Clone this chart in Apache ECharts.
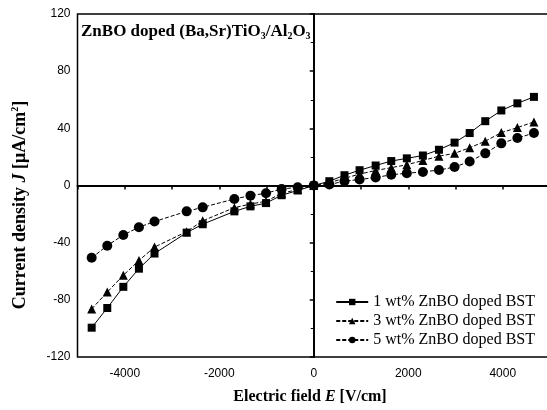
<!DOCTYPE html>
<html><head><meta charset="utf-8">
<script src="https://cdn.jsdelivr.net/npm/echarts@6/dist/echarts.min.js"></script>
<style>html,body{margin:0;padding:0;background:#fff}#c{width:547px;height:410px}</style>
</head><body><div id="c"></div>
<script>
const fieldE = [-4700,-4370,-4030,-3700,-3370,-2690,-2350,-1680,-1340,-1010,-680,-340,0,
  330,650,970,1310,1640,1970,2310,2650,2980,3300,3630,3970,4310,4660];
const wt1 = [-99.5,-85.7,-70.9,-58.2,-47.6,-33,-27.1,-18.1,-14.6,-12.3,-6.8,-3.5,0,
  3.0,7.2,10.7,14.0,17.1,19.0,21.0,25.0,30.0,36.7,45.0,52.5,57.5,62.0];
const wt3 = [-86.4,-74.6,-62.8,-52.5,-43.1,-32.3,-24.7,-15.5,-13,-11,-5.5,-2.8,0,
  2,5,8,10.5,12.5,14.5,17.5,20.5,22.5,26.4,31,37,40.5,44.5];
const wt5 = [-50.6,-42.1,-34.6,-29.2,-25.2,-18.1,-15.3,-9.4,-7.1,-5.4,-2.5,-1.2,0,
  0.7,3.0,4.2,5.6,7.5,8.6,9.5,10.8,12.9,16.8,22.5,29.5,33.2,36.7];
const seriesNames = ['1 wt% ZnBO doped BST','3 wt% ZnBO doped BST','5 wt% ZnBO doped BST'];
const xTickLabels = [-4000,-2000,0,2000,4000];
const yTickLabels = [-120,-80,-40,0,40,80,120];

const pair = arr => fieldE.map((x,i)=>[x,arr[i]]);
const serif = '"Liberation Serif","DejaVu Serif",serif';
const sans = '"Liberation Sans",Arial,sans-serif';
const chart = echarts.init(document.getElementById('c'));
chart.setOption({
  animation:false,
  backgroundColor:'#fff',
  grid:{left:77.5,top:14,width:472.5,height:343,outerBoundsMode:'none',containLabel:false,
    show:true,borderColor:'#000',borderWidth:1.5,backgroundColor:'transparent'},
  xAxis:{type:'value',min:-5000,max:5000,interval:1000,
    axisLine:{lineStyle:{color:'#000',width:2}},
    axisTick:{show:true,length:4,lineStyle:{color:'#000',width:1.5}},
    axisLabel:{color:'#000',fontFamily:sans,fontSize:12,margin:11,
      formatter:v=>xTickLabels.includes(v)?String(v):''},
    splitLine:{show:false}},
  yAxis:{type:'value',min:-120,max:120,interval:40,
    axisLine:{lineStyle:{color:'#000',width:2}},
    axisTick:{show:true,length:4,lineStyle:{color:'#000',width:1.5}},
    minorTick:{show:true,splitNumber:2,length:3,lineStyle:{color:'#000'}},
    axisLabel:{color:'#000',fontFamily:sans,fontSize:12,margin:7,
      formatter:v=>yTickLabels.includes(v)?String(v):''},
    splitLine:{show:false}},
  legend:{right:7,top:289,orient:'vertical',itemGap:3,itemWidth:32,itemHeight:8,
    textStyle:{fontFamily:serif,fontSize:16,color:'#000'},
    data:seriesNames},
  graphic:[
    {type:'text',left:81,top:23,style:{
      text:'{b|ZnBO doped (Ba,Sr)TiO}{s|3}{b|/Al}{s|2}{b|O}{s|3}',
      rich:{b:{fontFamily:serif,fontWeight:'bold',fontSize:17,fill:'#000'},
            s:{fontFamily:serif,fontWeight:'bold',fontSize:10,fill:'#000',padding:[9,0,0,0]}}}},
    {type:'text',x:20,y:205,rotation:Math.PI/2,style:{
      text:'{b|Current density }{i|J}{b| [μA/cm}{p|2}{b|]}',align:'center',verticalAlign:'middle',
      rich:{b:{fontFamily:serif,fontWeight:'bold',fontSize:18,fill:'#000'},
            i:{fontFamily:serif,fontWeight:'bold',fontStyle:'italic',fontSize:18,fill:'#000'},
            p:{fontFamily:serif,fontWeight:'bold',fontSize:10,fill:'#000',padding:[0,0,9,0]}}}},
    {type:'text',x:310,y:397,style:{
      text:'{b|Electric field }{i|E}{b| [V/cm]}',align:'center',verticalAlign:'middle',
      rich:{b:{fontFamily:serif,fontWeight:'bold',fontSize:16,fill:'#000'},
            i:{fontFamily:serif,fontWeight:'bold',fontStyle:'italic',fontSize:16,fill:'#000'}}}}
  ],
  series:[
    {name:seriesNames[0],type:'line',data:pair(wt1),symbol:'rect',symbolSize:8,
      itemStyle:{color:'#000'},lineStyle:{color:'#000',width:1,type:'solid'},z:5,
      markLine:{silent:true,symbol:'none',label:{show:false},animation:false,
        lineStyle:{color:'#000',width:1.5,type:'solid'},
        data:[{xAxis:0},{yAxis:0}]}},
    {name:seriesNames[1],type:'line',data:pair(wt3),symbol:'triangle',symbolSize:9,
      itemStyle:{color:'#000'},lineStyle:{color:'#000',width:1,type:[4,2]},z:4},
    {name:seriesNames[2],type:'line',data:pair(wt5),symbol:'circle',symbolSize:10,
      itemStyle:{color:'#000'},lineStyle:{color:'#000',width:1,type:[4,2]},z:3}
  ]
});
</script></body></html>
